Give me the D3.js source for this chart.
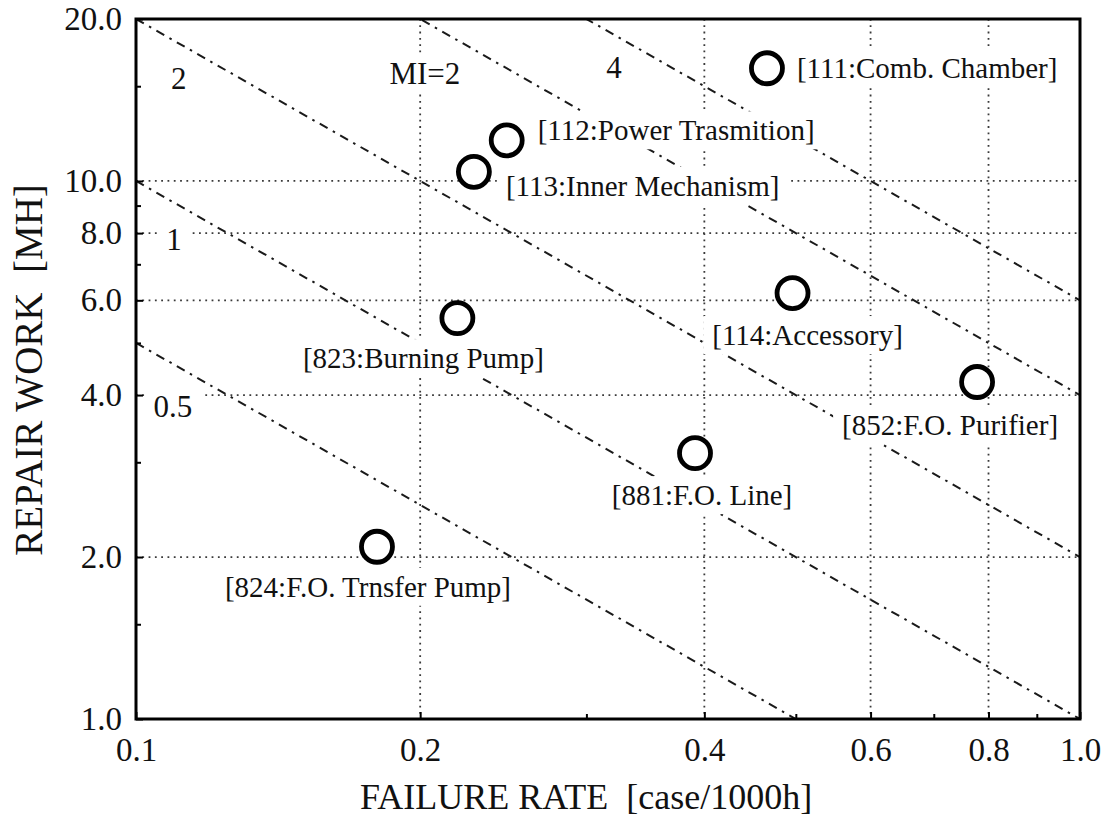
<!DOCTYPE html>
<html>
<head>
<meta charset="utf-8">
<script src="https://cdn.jsdelivr.net/npm/d3@7/dist/d3.min.js"></script>
<style>
  html, body { margin: 0; padding: 0; background: #fff; }
  svg { display: block; font-family: "Liberation Serif", "Times New Roman", serif; }
</style>
</head>
<body>
<svg id="chart" width="1106" height="822"></svg>
<script>
// ---- data -------------------------------------------------------------
const codes       = ["111", "112", "113", "114", "823", "824", "852", "881"];
const names       = ["Comb. Chamber", "Power Trasmition", "Inner Mechanism", "Accessory",
                     "Burning Pump", "F.O. Trnsfer Pump", "F.O. Purifier", "F.O. Line"];
const failureRate = [0.466, 0.247, 0.228, 0.496, 0.219, 0.180, 0.778, 0.391];   // case/1000h
const repairWork  = [16.2, 11.9, 10.4, 6.19, 5.56, 2.09, 4.23, 3.12];           // MH

// iso-lines of constant failureRate * repairWork
const miLevels    = [0.5, 1, 2, 4, 6];
const miTexts     = ["0.5", "1", "2", "MI=2", "4"];
const miTextRate  = [0.1094, 0.1097, 0.111, 0.2023, 0.3209];
const miTextWork  = [3.64, 7.44, 14.8, 15.15, 15.54];

const xTickValues  = [0.1, 0.2, 0.4, 0.6, 0.8, 1.0];
const xMinorValues = [0.3, 0.5, 0.7, 0.9];
const xGridValues  = [0.2, 0.4, 0.6, 0.8];
const yTickValues  = [1, 2, 4, 6, 8, 10, 20];
const yMinorValues = [1.5, 3, 5, 7, 9, 15];
const yGridValues  = [2, 4, 6, 8, 10];

// ---- label placement (pixel offsets from each marker) -------------------
const labelLayout = {
  "111": { anchor: "start",  dx: 30,  dy: 10 },
  "112": { anchor: "start",  dx: 31,  dy: 0 },
  "113": { anchor: "start",  dx: 32,  dy: 24 },
  "114": { anchor: "middle", dx: 15,  dy: 52 },
  "823": { anchor: "middle", dx: -34, dy: 50 },
  "824": { anchor: "middle", dx: -9,  dy: 50 },
  "852": { anchor: "middle", dx: -27, dy: 53 },
  "881": { anchor: "middle", dx: 7,   dy: 52 }
};

// ---- layout -------------------------------------------------------------
const margin = { left: 136, right: 26, top: 19, bottom: 103 };
const W = 1106, H = 822;
const plotW = W - margin.left - margin.right;
const plotH = H - margin.top - margin.bottom;

const svg = d3.select("#chart");
svg.append("rect").attr("width", W).attr("height", H).attr("fill", "#fff");

const x = d3.scaleLog().domain([0.1, 1.0]).range([0, plotW]);
const y = d3.scaleLog().domain([1.0, 20.0]).range([plotH, 0]);

const g = svg.append("g").attr("transform", `translate(${margin.left},${margin.top})`);

g.append("clipPath").attr("id", "plotClip")
  .append("rect").attr("width", plotW).attr("height", plotH);

// dotted grid
const grid = g.append("g").attr("stroke", "#3a3a3a").attr("stroke-width", 1.8)
  .attr("stroke-dasharray", "1.8,4.5").attr("fill", "none");
grid.selectAll("line.gx").data(xGridValues).join("line").attr("class", "gx")
  .attr("x1", d => x(d)).attr("x2", d => x(d)).attr("y1", 0).attr("y2", plotH);
grid.selectAll("line.gy").data(yGridValues).join("line").attr("class", "gy")
  .attr("x1", 0).attr("x2", plotW).attr("y1", d => y(d)).attr("y2", d => y(d));

// dash-dot iso-lines
const iso = d3.line().x(d => x(d[0])).y(d => y(d[1]));
g.append("g").attr("clip-path", "url(#plotClip)")
  .selectAll("path").data(miLevels).join("path")
  .attr("d", k => iso([[0.1, k / 0.1], [1.0, k / 1.0]]))
  .attr("fill", "none").attr("stroke", "#1a1a1a").attr("stroke-width", 2)
  .attr("stroke-dasharray", "9,6,2.5,6");

// text with a white knock-out box behind it
function knockText(parent, tx, ty, str, size, anchor) {
  const grp = parent.append("g");
  const bg = grp.append("rect").attr("fill", "#fff");
  const t = grp.append("text").attr("x", tx).attr("y", ty)
    .attr("text-anchor", anchor).attr("font-size", size).attr("fill", "#111")
    .text(str);
  const b = t.node().getBBox();
  bg.attr("x", b.x - 9).attr("y", b.y - 3).attr("width", b.width + 18).attr("height", b.height + 6);
  return grp;
}

const labels = g.append("g");
miTexts.forEach((s, i) => {
  knockText(labels, x(miTextRate[i]), y(miTextWork[i]), s, 31, "middle");
});

codes.forEach((c, i) => {
  const L = labelLayout[c];
  knockText(labels, x(failureRate[i]) + L.dx, y(repairWork[i]) + L.dy,
            `[${c}:${names[i]}]`, 29, L.anchor);
});

// markers
g.append("g").selectAll("circle").data(codes).join("circle")
  .attr("cx", (d, i) => x(failureRate[i]))
  .attr("cy", (d, i) => y(repairWork[i]))
  .attr("r", 15.5)
  .attr("fill", "#fff").attr("stroke", "#000").attr("stroke-width", 4.8);

// axes (inward ticks)
const fmt = d3.format(".1f");
const xAxis = g.append("g").attr("transform", `translate(0,${plotH})`)
  .call(d3.axisBottom(x).tickValues(xTickValues).tickFormat(fmt).tickSizeInner(-7).tickSizeOuter(0).tickPadding(19));
const xMinorAxis = g.append("g").attr("transform", `translate(0,${plotH})`)
  .call(d3.axisBottom(x).tickValues(xMinorValues).tickFormat("").tickSizeInner(-5).tickSizeOuter(0));
const yAxis = g.append("g")
  .call(d3.axisLeft(y).tickValues(yTickValues).tickFormat(fmt).tickSizeInner(-7).tickSizeOuter(0).tickPadding(14));
const yMinorAxis = g.append("g")
  .call(d3.axisLeft(y).tickValues(yMinorValues).tickFormat("").tickSizeInner(-5).tickSizeOuter(0));

[xAxis, xMinorAxis, yAxis, yMinorAxis].forEach(a => {
  a.select(".domain").remove();
  a.selectAll(".tick line").attr("stroke", "#000").attr("stroke-width", 2);
  a.selectAll(".tick text").attr("font-family", "Liberation Serif, serif")
    .attr("font-size", 33).attr("fill", "#111");
});
xAxis.selectAll(".tick text").attr("dy", "0.71em");

// frame
g.append("rect").attr("width", plotW).attr("height", plotH)
  .attr("fill", "none").attr("stroke", "#000").attr("stroke-width", 3);

// axis titles
svg.append("text").attr("x", 586).attr("y", 809).attr("text-anchor", "middle")
  .attr("font-size", 36).attr("fill", "#111")
  .text("FAILURE RATE\u00a0\u00a0[case/1000h]");
svg.append("text").attr("transform", "translate(42,370) rotate(-90)").attr("text-anchor", "middle")
  .attr("font-size", 39).attr("fill", "#111")
  .text("REPAIR WORK\u00a0\u00a0[MH]");
</script>
</body>
</html>
